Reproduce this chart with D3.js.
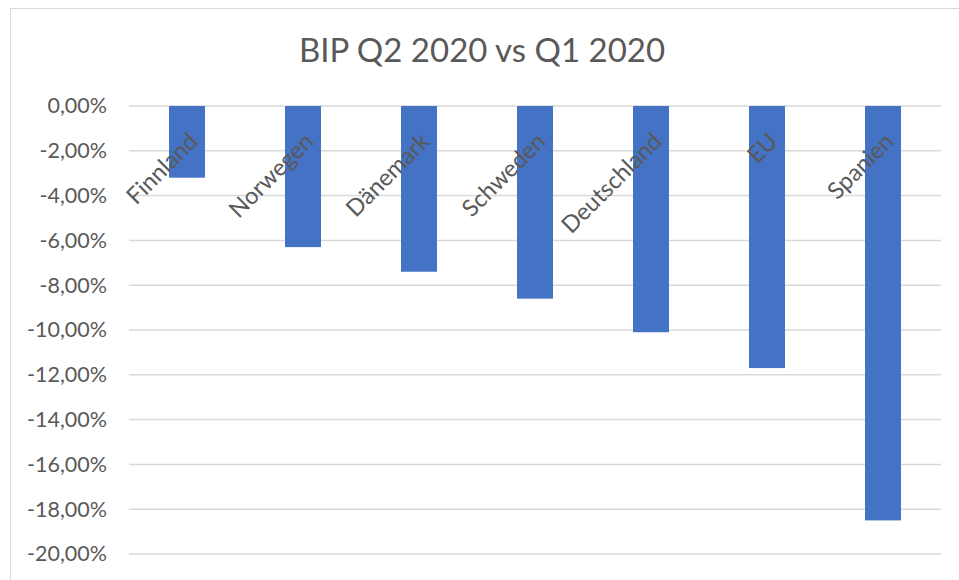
<!DOCTYPE html>
<html lang="de">
<head>
<meta charset="UTF-8">
<title>BIP Q2 2020 vs Q1 2020</title>
<script src="https://d3js.org/d3.v7.min.js"></script>
<style>
  body { margin: 0; background: #fff; }
  svg { display: block; font-family: Lato, "Liberation Sans", sans-serif; }
</style>
</head>
<body>
<script>
    // Daten
    var countries = ["Finnland", "Norwegen", "Dänemark", "Schweden", "Deutschland", "EU", "Spanien"];
    var change = [-0.032, -0.063, -0.074, -0.086, -0.101, -0.117, -0.185];
    var yTicks = [0, -0.02, -0.04, -0.06, -0.08, -0.10, -0.12, -0.14, -0.16, -0.18, -0.20];

    var width = 959, height = 580;

    var svg = d3.select("body").append("svg")
        .attr("width", width)
        .attr("height", height);

    // chart border
    svg.append("rect")
        .attr("x", 10.5).attr("y", 8.5)
        .attr("width", 960).attr("height", 600)
        .attr("fill", "white")
        .attr("stroke", "#d9d9d9");

    var x = d3.scaleBand()
        .domain(countries)
        .range([129, 941])
        .paddingInner(0.69)
        .paddingOuter(0.345);

    var y = d3.scaleLinear()
        .domain([-0.2, 0])
        .range([554, 106]);

    var de = d3.formatLocale({decimal: ",", thousands: ".", grouping: [3], currency: ["", " €"], minus: "-"});
    var fmt = de.format(".2%");

    // gridlines
    svg.append("g")
        .selectAll("line")
        .data(yTicks)
        .join("line")
        .attr("x1", 129).attr("x2", 941)
        .attr("y1", function (d) { return y(d); })
        .attr("y2", function (d) { return y(d); })
        .attr("stroke", "#d9d9d9")
        .attr("stroke-width", 1.5);

    // y axis labels
    var yAxis = d3.axisLeft(y).tickValues(yTicks).tickFormat(fmt).tickSize(0).tickPadding(0);
    svg.append("g")
        .attr("transform", "translate(107,0)")
        .call(yAxis)
        .call(function (g) { g.select(".domain").remove(); })
        .selectAll("text")
        .attr("fill", "#595959")
        .attr("font-family", "Lato, 'Liberation Sans', sans-serif")
        .attr("font-size", 21.5);

    // bars
    svg.append("g")
        .selectAll("rect")
        .data(countries)
        .join("rect")
        .attr("x", function (d) { return x(d); })
        .attr("width", x.bandwidth())
        .attr("y", y(0))
        .attr("height", function (d, i) { return y(change[i]) - y(0); })
        .attr("fill", "#4472c4");

    // category labels, rotated
    svg.append("g")
        .selectAll("text")
        .data(countries)
        .join("text")
        .attr("transform", function (d) {
            var cx = x(d) + x.bandwidth() / 2;
            return "translate(" + (cx + 12) + ",143) rotate(-45)";
        })
        .attr("text-anchor", "end")
        .attr("fill", "#595959")
        .attr("font-size", 23.5)
        .text(function (d) { return d; });

    // title
    svg.append("text")
        .attr("x", 482)
        .attr("y", 62)
        .attr("text-anchor", "middle")
        .attr("fill", "#595959")
        .attr("font-size", 33)
        .text("BIP Q2 2020 vs Q1 2020");
</script>
</body>
</html>
